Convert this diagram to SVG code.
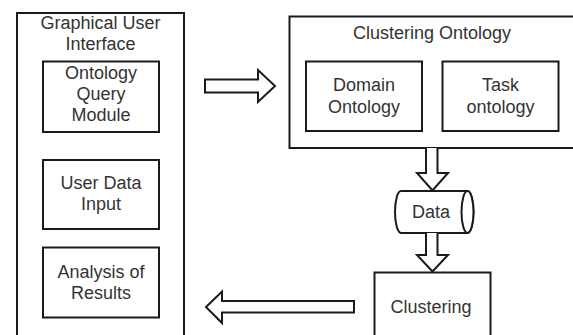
<svg xmlns="http://www.w3.org/2000/svg" width="573" height="335" viewBox="0 0 573 335">
  <style>
    .box { fill: #fff; stroke: #1a1a1a; stroke-width: 2; }
    .arrow { fill: #fff; stroke: #1a1a1a; stroke-width: 2; stroke-linejoin: miter; }
    .lbl { font-family: "Liberation Sans", Arial, sans-serif; font-size: 18px; fill: #333; text-anchor: middle; }
  </style>
  <rect width="573" height="335" fill="#fff"/>

  <g id="gui">
    <rect class="box" x="17" y="13" width="167" height="340"/>
    <text class="lbl" x="100.5" y="29">Graphical User</text>
    <text class="lbl" x="100.5" y="49.5">Interface</text>
  </g>

  <g id="ontology-query-module">
    <rect class="box" x="43" y="61.5" width="116" height="70.5"/>
    <text class="lbl" x="101" y="78.5">Ontology</text>
    <text class="lbl" x="101" y="99.5">Query</text>
    <text class="lbl" x="101" y="120.5">Module</text>
  </g>

  <g id="user-data-input">
    <rect class="box" x="43" y="160" width="116" height="69"/>
    <text class="lbl" x="101" y="188.5">User Data</text>
    <text class="lbl" x="101" y="210">Input</text>
  </g>

  <g id="analysis-of-results">
    <rect class="box" x="43" y="247.5" width="116" height="70"/>
    <text class="lbl" x="101" y="277.5">Analysis of</text>
    <text class="lbl" x="101" y="298.5">Results</text>
  </g>

  <g id="clustering-ontology">
    <rect class="box" x="289.5" y="16.5" width="300" height="131.5"/>
    <text class="lbl" x="432" y="38.5">Clustering Ontology</text>
  </g>

  <g id="domain-ontology">
    <rect class="box" x="306" y="61.5" width="116" height="69.5"/>
    <text class="lbl" x="364" y="90.5">Domain</text>
    <text class="lbl" x="364" y="113">Ontology</text>
  </g>

  <g id="task-ontology">
    <rect class="box" x="442.5" y="61.5" width="116" height="69.5"/>
    <text class="lbl" x="500.5" y="90.5">Task</text>
    <text class="lbl" x="500.5" y="113">ontology</text>
  </g>

  <g id="data">
    <path class="box" d="M401,191 H467.5 A6,21 0 0 1 467.5,233 H401 A6,21 0 0 1 401,191 Z"/>
    <ellipse class="box" cx="467.5" cy="212" rx="6" ry="21"/>
    <text class="lbl" x="431" y="217.5">Data</text>
  </g>

  <g id="clustering">
    <rect class="box" x="374.5" y="272.5" width="116" height="80"/>
    <text class="lbl" x="431" y="312.5">Clustering</text>
  </g>

  <g id="connectors">
    <!-- GUI to clustering ontology -->
    <path class="arrow" d="M205,79.5 H258 V70 L275,86 L258,102 V92.5 H205 Z"/>
    <!-- clustering ontology to data -->
    <path class="arrow" d="M426,148 V173 H417 L432.5,190.5 L448,173 H437.5 V148"/>
    <!-- data to clustering -->
    <path class="arrow" d="M426,233 V255 H417 L432.5,271.5 L448,255 H437.5 V233"/>
    <!-- clustering back to GUI -->
    <path class="arrow" d="M354,301 H222 V291.5 L206,307 L222,323 V312.5 H354 Z"/>
  </g>
</svg>
